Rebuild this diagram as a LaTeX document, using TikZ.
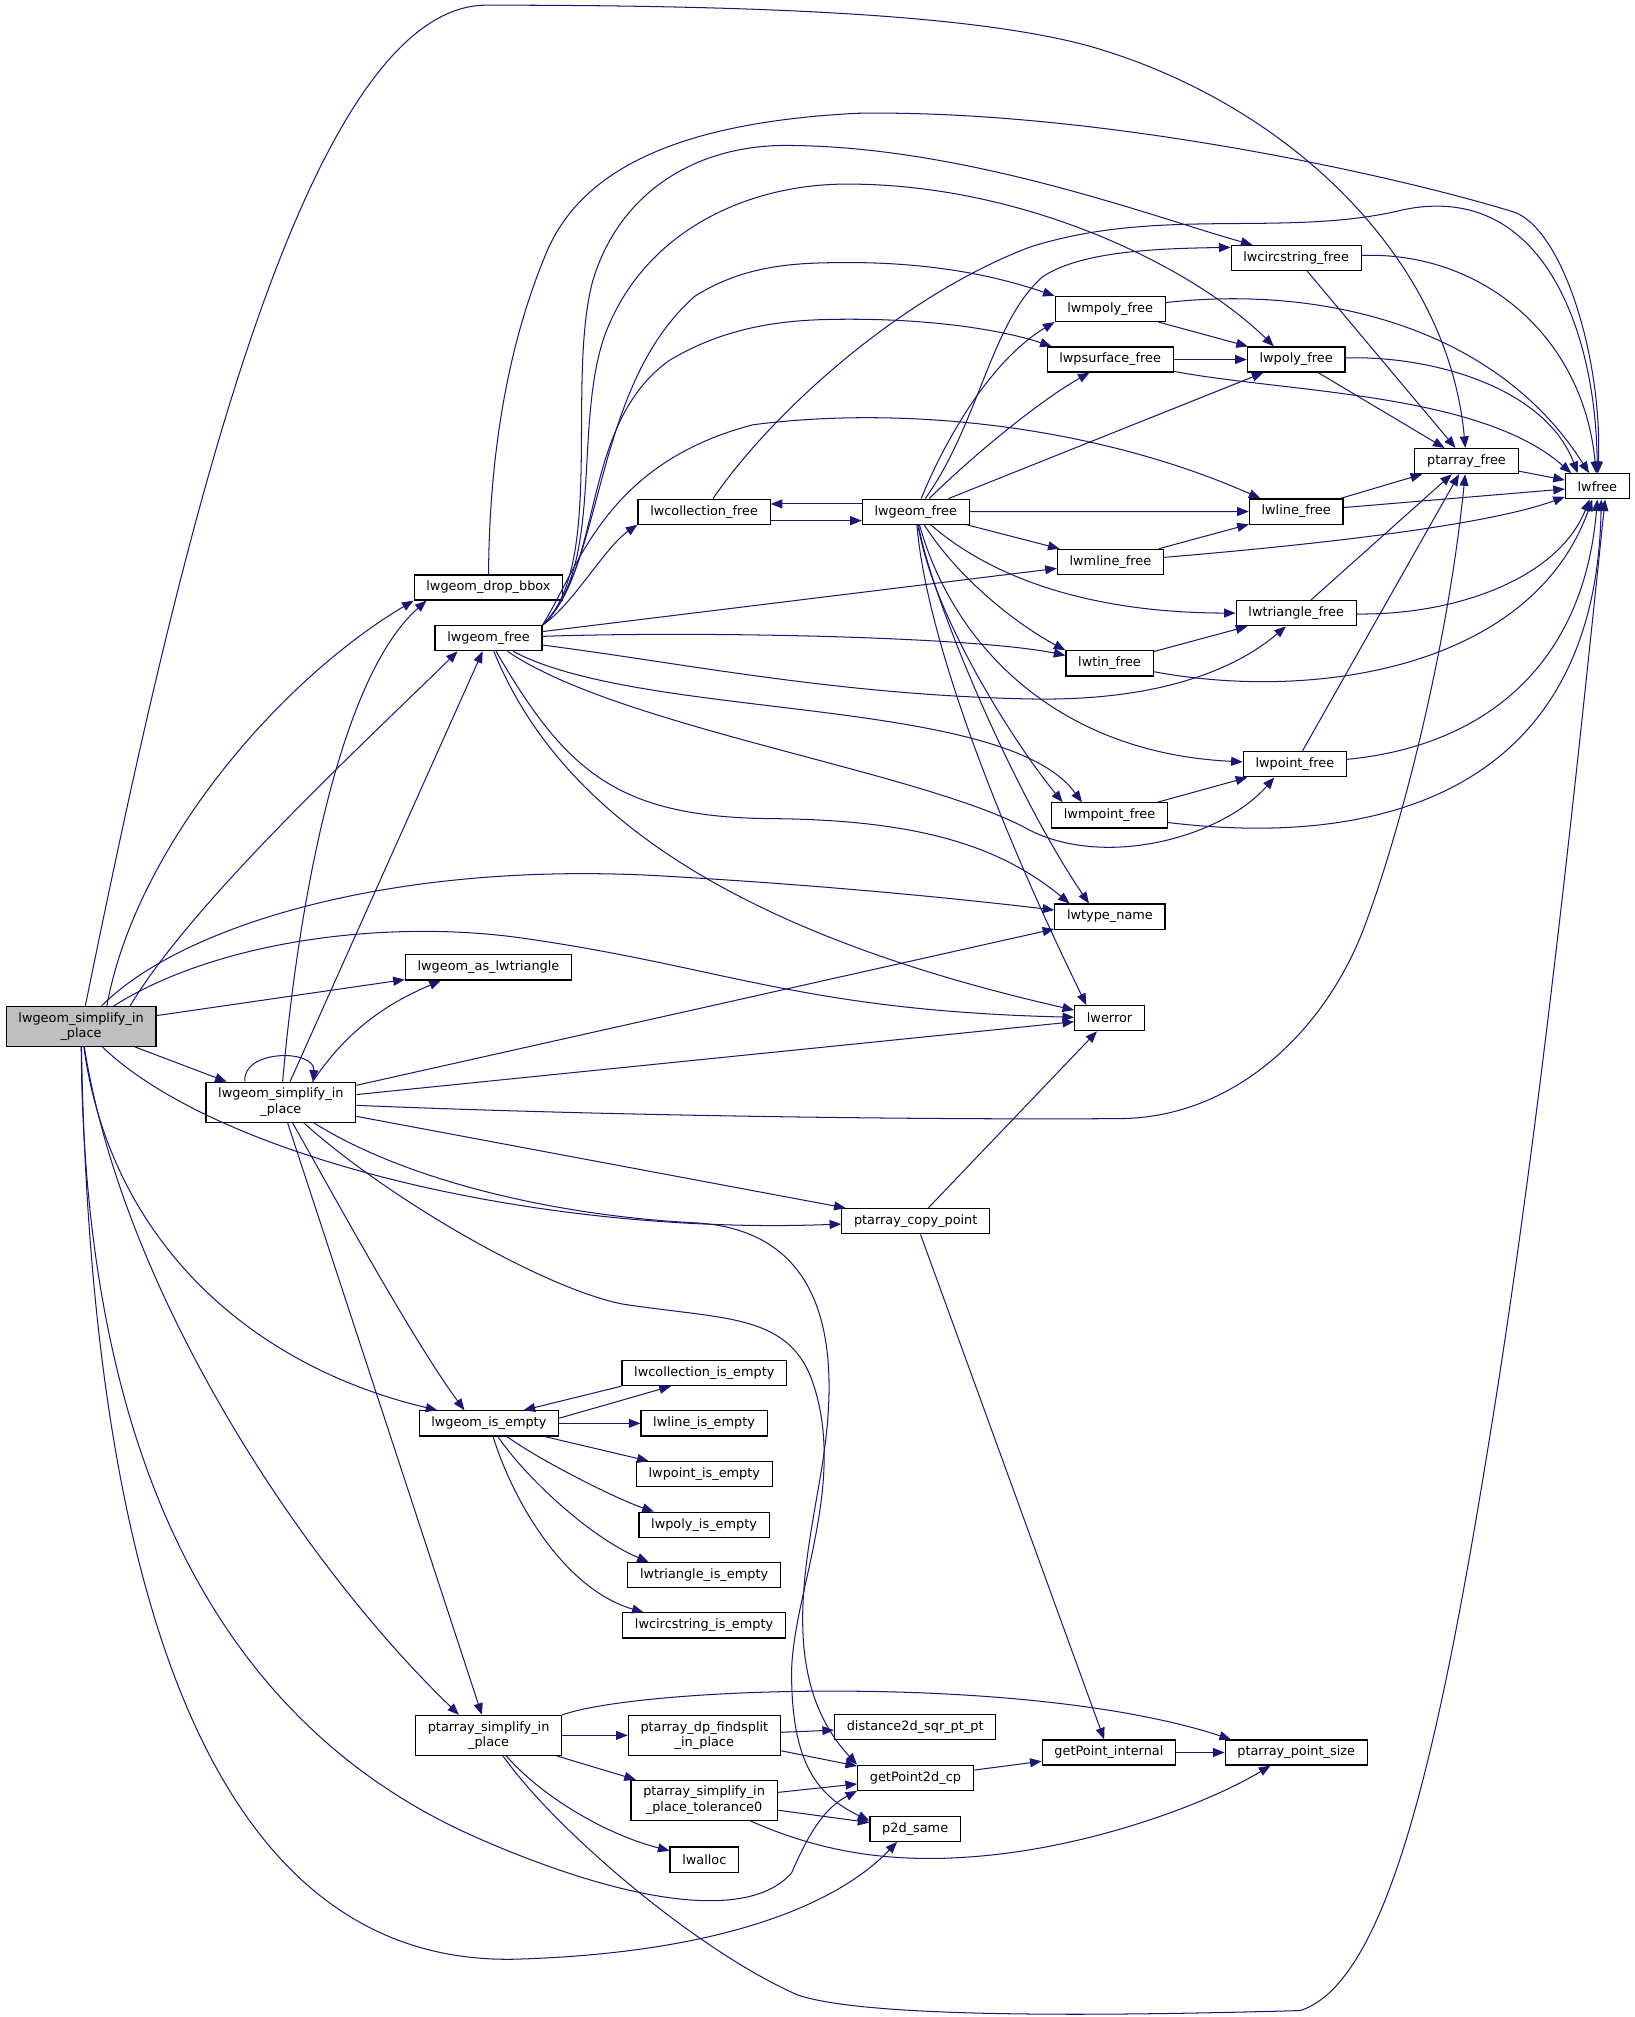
\documentclass[tikz,border=0pt]{standalone}
\usepackage{fontspec}
\newfontfamily\fnfont{DejaVu Sans}
\usepackage{tikz}
\usetikzlibrary{positioning}
\usetikzlibrary{arrows,arrows.meta}
\definecolor{edgeblue}{HTML}{191970}
\tikzstyle{fnode}=[rectangle,draw=black,fill=white,line width=0.9pt,font=\fnfont\fontsize{10pt}{12pt}\selectfont,inner xsep=9.5pt,inner ysep=0pt,minimum height=19.5pt]
\tikzstyle{twoline}=[fnode,align=center,minimum height=31pt]
\tikzstyle{mainnode}=[twoline,fill=black!25]
\tikzstyle{edge}=[draw=edgeblue,line width=0.8pt,-{Triangle[length=9pt,width=7pt]}]

\begin{document}
\begin{tikzpicture}[x=1pt,y=-1pt]
  \useasboundingbox (0,0) rectangle (1270,1567);

  % function boxes
  \node[mainnode] (main) at (63,797.5) {lwgeom\_simplify\_in\\\_place};
  \node[twoline] (rec) at (218.2,856.3) {lwgeom\_simplify\_in\\\_place};
  \node[twoline] (psi) at (379.6,1348.2) {ptarray\_simplify\_in\\\_place};
  \node[twoline] (dpsplit) at (547.2,1348.2) {ptarray\_dp\_findsplit\\\_in\_place};
  \node[twoline] (tolzero) at (547,1398.6) {ptarray\_simplify\_in\\\_place\_tolerance0};

  \foreach \x/\y/\name/\txt in {379.5/456.4/dropbbox/lwgeom\_drop\_bbox, 379.5/495.8/freeA/lwgeom\_free,
        379.5/751.6/astri/lwgeom\_as\_lwtriangle, 379.8/1105.8/isempty/lwgeom\_is\_empty}
     \node[fnode] (\name) at (\x,\y) {\txt};

  \foreach \x/\y/\name/\txt in {547/397.5/collfree/lwcollection\_free, 547.2/1066.7/collempty/lwcollection\_is\_empty,
        547/1105.8/lineempty/lwline\_is\_empty, 547.2/1145.3/pointempty/lwpoint\_is\_empty,
        547/1184.5/polyempty/lwpoly\_is\_empty, 547/1223.7/triempty/lwtriangle\_is\_empty,
        547/1262.8/circempty/lwcircstring\_is\_empty, 547.2/1444.7/lwalloc/lwalloc}
     \node[fnode] (\name) at (\x,\y) {\txt};

  \foreach \x/\y/\name/\txt in {711.5/397.5/freeB/lwgeom\_free, 711.4/948.7/copypt/ptarray\_copy\_point,
        711/1341.6/dist/distance2d\_sqr\_pt\_pt, 711.2/1381.1/getpt/getPoint2d\_cp, 711/1420.7/psame/p2d\_same}
     \node[fnode] (\name) at (\x,\y) {\txt};

  \foreach \x/\y/\name/\txt in {862.5/240/mpolyfree/lwmpoly\_free, 862.5/279.3/psurffree/lwpsurface\_free,
        862.7/436.5/mlinefree/lwmline\_free, 862/515.4/tinfree/lwtin\_free, 862/633.5/mpointfree/lwmpoint\_free,
        862.3/712.1/typename/lwtype\_name, 862/791/lwerror/lwerror, 861.5/1361.5/getint/getPoint\_internal}
     \node[fnode] (\name) at (\x,\y) {\txt};

  \foreach \x/\y/\name/\txt in {1007/200.4/circfree/lwcircstring\_free, 1007/279.3/polyfree/lwpoly\_free,
        1007/397.4/linefree/lwline\_free, 1007/476.4/trifree/lwtriangle\_free, 1006/593.8/pointfree/lwpoint\_free,
        1007/1361.5/ptsize/ptarray\_point\_size, 1139.3/358.2/ptfree/ptarray\_free, 1241/377.8/lwfree/lwfree}
     \node[fnode] (\name) at (\x,\y) {\txt};

  % straight calls
  \foreach \source/\dest in {main/astri, main/rec, rec/freeA, rec/typename, rec/lwerror, rec/copypt, rec/psi,
        freeA/mlinefree, freeB/polyfree, freeB/linefree, freeB/mlinefree, circfree/ptfree, mpolyfree/polyfree,
        psurffree/polyfree, polyfree/ptfree, ptfree/lwfree, linefree/ptfree, linefree/lwfree, mlinefree/linefree,
        trifree/ptfree, tinfree/trifree, pointfree/ptfree, mpointfree/pointfree, copypt/lwerror, copypt/getint,
        isempty/lineempty, isempty/pointempty, psi/dpsplit, psi/tolzero, dpsplit/dist, dpsplit/getpt,
        tolzero/getpt, tolzero/psame, getpt/getint, getint/ptsize}
     \path[edge] (\source) -- (\dest);

  % main
  \path[edge] (main) .. controls (130,470) and (230,4) .. (378,4) .. controls (600,4) and (760,12) .. (847,36) .. controls (1000,80) and (1125,200) .. (ptfree);
  \path[edge] ([xshift=20pt]main.north) .. controls (105,660) and (215,530) .. (dropbbox.south west);
  \path[edge] ([xshift=38pt]main.north) .. controls (150,700) and (280,580) .. ([xshift=18pt]freeA.south west);
  \path[edge] (main) .. controls (140,720) and (300,670) .. (505,680) .. controls (650,688) and (760,700) .. (typename);
  \path[edge] (main) .. controls (170,730) and (300,715) .. (400,728) .. controls (560,750) and (620,785) .. (lwerror);
  \path[edge] (main) .. controls (170,900) and (420,960) .. (copypt);
  \path[edge] (main) .. controls (85,960) and (190,1060) .. ([xshift=-40pt]isempty.north);
  \path[edge] (main) .. controls (95,1000) and (230,1210) .. ([xshift=-23pt]psi.north);
  \path[edge] (main) .. controls (65,1100) and (150,1330) .. (369,1427) .. controls (480,1476) and (580,1495) .. (615,1455) .. controls (628,1425) and (640,1405) .. (getpt.south west);
  \path[edge] (main) .. controls (70,1200) and (150,1530) .. (403,1522) .. controls (560,1517) and (650,1480) .. ([xshift=-14pt]psame.south);

  % recursive call
  \path[edge] ([xshift=-28pt]rec.north) .. controls (188,815) and (245,815) .. ([xshift=25pt]rec.north);
  \path[edge] (rec) .. controls (230,720) and (260,530) .. ([xshift=10pt]dropbbox.south west);
  \path[edge] ([xshift=-34pt]rec.north east) .. controls (270,800) and (300,780) .. ([xshift=28pt]astri.south west);
  \path[edge] (rec) .. controls (500,868) and (760,870) .. (871,869) .. controls (960,868) and (1030,800) .. (1060,720) .. controls (1090,640) and (1125,500) .. (ptfree);
  \path[edge] (rec) .. controls (320,920) and (440,945) .. (540,950) .. controls (650,956) and (650,1060) .. (640,1130) .. controls (630,1200) and (600,1300) .. (getpt.north west);
  \path[edge] (rec) .. controls (300,930) and (420,1000) .. (483,1013) .. controls (560,1025) and (610,1020) .. (630,1070) .. controls (660,1150) and (615,1240) .. (615,1300) .. controls (615,1370) and (635,1395) .. ([yshift=-4pt]psame.north west);
  \path[edge] (rec) .. controls (260,930) and (320,1040) .. ([xshift=-19pt]isempty.north);

  \path[edge] (dropbbox) .. controls (380,370) and (390,280) .. (423,200) .. controls (450,130) and (530,95) .. (666,88) .. controls (850,85) and (1080,135) .. (1177,165) .. controls (1215,180) and (1245,280) .. (lwfree);

  % lwgeom_free (left)
  \path[edge] (freeA.north east) .. controls (445,470) and (470,425) .. (collfree.south west);
  \path[edge] (freeA.north east) .. controls (470,440) and (440,300) .. (460,220) .. controls (480,150) and (540,113) .. (610,113) .. controls (750,113) and (900,170) .. ([xshift=17pt]circfree.north west);
  \path[edge] (freeA.north east) .. controls (470,440) and (445,330) .. (470,260) .. controls (500,180) and (580,143) .. (658,143) .. controls (800,143) and (930,210) .. ([xshift=21pt]polyfree.north west);
  \path[edge] (freeA.north east) .. controls (470,440) and (460,300) .. (540,230) .. controls (580,205) and (620,204) .. (660,204) .. controls (740,204) and (790,220) .. (mpolyfree.north west);
  \path[edge] (freeA.north east) .. controls (470,440) and (450,330) .. (520,280) .. controls (570,250) and (620,248) .. (660,248) .. controls (740,248) and (790,260) .. ([xshift=4pt]psurffree.north west);
  \path[edge] (freeA.north east) .. controls (450,440) and (470,360) .. (585,330) .. controls (700,315) and (850,330) .. ([xshift=9pt]linefree.north west);
  \path[edge] (freeA) .. controls (550,490) and (760,495) .. ([yshift=-4pt]tinfree.north west);
  \path[edge] (freeA) .. controls (530,515) and (650,540) .. (800,543) .. controls (900,545) and (960,520) .. ([xshift=-8pt]trifree.south);
  \path[edge] (freeA) .. controls (500,560) and (780,540) .. ([xshift=24pt]mpointfree.north west);
  \path[edge] (freeA) .. controls (480,565) and (720,600) .. (800,645) .. controls (860,675) and (950,650) .. ([xshift=-16pt]pointfree.south);
  \path[edge] (freeA) .. controls (440,600) and (480,635) .. (600,636) .. controls (720,637) and (780,660) .. ([xshift=12pt]typename.north west);
  \path[edge] (freeA) .. controls (430,620) and (550,720) .. (lwerror);

  % lwgeom_free (right)
  \path[edge] ([yshift=6pt]freeB.west) -- ([yshift=6pt]collfree.east);
  \path[edge] ([yshift=-7pt]collfree.east) -- ([yshift=-7pt]freeB.west);
  \path[edge] (collfree) .. controls (600,320) and (700,230) .. (800,192) .. controls (900,160) and (1000,185) .. (1090,163) .. controls (1200,140) and (1240,260) .. (lwfree);
  \path[edge] (freeB) .. controls (760,330) and (770,250) .. (810,215) .. controls (840,195) and (900,193) .. ([yshift=-2pt]circfree.north west);
  \path[edge] (freeB) .. controls (735,340) and (770,280) .. (mpolyfree.south west);
  \path[edge] (freeB) .. controls (760,350) and (810,310) .. ([xshift=-16pt]psurffree.south);
  \path[edge] (freeB) .. controls (760,440) and (830,476) .. (trifree);
  \path[edge] (freeB) .. controls (745,450) and (790,485) .. (tinfree.north west);
  \path[edge] (freeB) .. controls (740,500) and (820,585) .. (pointfree);
  \path[edge] (freeB) .. controls (725,480) and (790,580) .. ([xshift=9pt]mpointfree.north west);
  \path[edge] (freeB) .. controls (725,470) and (790,620) .. ([xshift=27pt]typename.north west);
  \path[edge] (freeB) .. controls (720,500) and (780,650) .. ([xshift=-18pt]lwerror.north);

  % into lwfree
  \path[edge] (circfree) .. controls (1150,195) and (1230,260) .. (lwfree);
  \path[edge] (mpolyfree) .. controls (1020,222) and (1160,250) .. (lwfree);
  \path[edge] (psurffree) .. controls (1000,305) and (1150,305) .. ([xshift=5pt]lwfree.north west);
  \path[edge] (polyfree) .. controls (1110,276) and (1200,300) .. ([xshift=10pt]lwfree.north west);
  \path[edge] (mlinefree) .. controls (1000,425) and (1150,410) .. ([yshift=2pt]lwfree.south west);
  \path[edge] (trifree) .. controls (1130,478) and (1210,450) .. ([xshift=-6pt]lwfree.south);
  \path[edge] (tinfree) .. controls (1020,545) and (1190,520) .. ([xshift=-4pt]lwfree.south);
  \path[edge] (pointfree) .. controls (1150,580) and (1230,520) .. (lwfree.south);
  \path[edge] (mpointfree) .. controls (1080,660) and (1240,610) .. ([xshift=3pt]lwfree.south);

  % emptiness checks
  \path[edge] ([yshift=4pt]isempty.east) -- ([xshift=-26pt]collempty.south);
  \path[edge] (collempty.south west) -- ([xshift=27pt]isempty.north);
  \path[edge] (isempty) .. controls (420,1135) and (480,1165) .. ([xshift=-39pt]polyempty.north);
  \path[edge] (isempty) .. controls (410,1150) and (460,1195) .. ([xshift=-43pt]triempty.north);
  \path[edge] (isempty) .. controls (400,1170) and (440,1235) .. ([xshift=-47pt]circempty.north);

  % point array simplification
  \path[edge] (psi.north east) .. controls (500,1310) and (800,1300) .. ([xshift=5pt]ptsize.north west);
  \path[edge] (psi) .. controls (420,1395) and (470,1425) .. (lwalloc);
  \path[edge] (psi) .. controls (430,1420) and (540,1515) .. (620,1550) .. controls (680,1570) and (900,1565) .. (1010,1562) .. controls (1080,1540) and (1120,1350) .. (1160,1100) .. controls (1200,850) and (1230,550) .. ([xshift=6pt]lwfree.south);
  \path[edge] (tolzero) .. controls (640,1440) and (700,1450) .. (780,1440) .. controls (860,1430) and (940,1400) .. ([xshift=-20pt]ptsize.south);

\end{tikzpicture}
\end{document}
